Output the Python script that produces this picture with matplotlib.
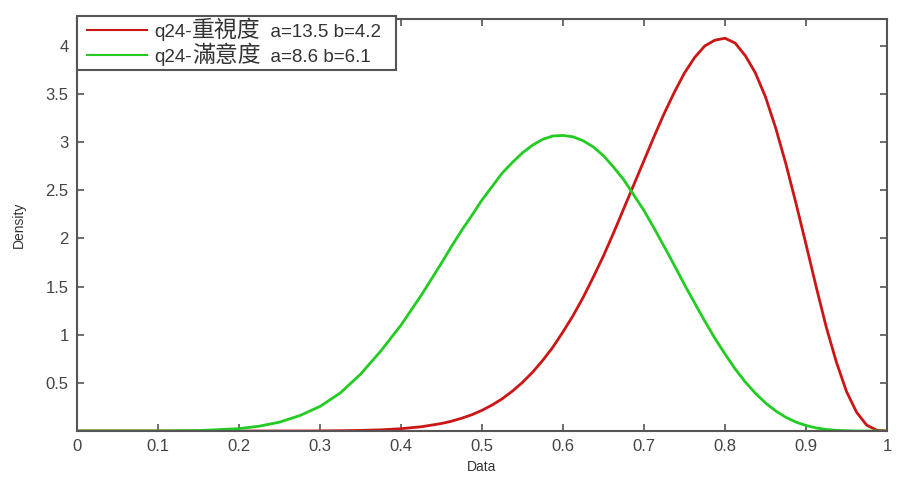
import matplotlib
matplotlib.use("Agg")
import matplotlib.pyplot as plt
from matplotlib.offsetbox import AnchoredOffsetbox, HPacker, VPacker, TextArea, DrawingArea
from matplotlib.lines import Line2D

plt.rcParams['font.family'] = ['Liberation Sans', 'Noto Sans CJK TC', 'DejaVu Sans']

# values
x_vals = [0.0, 0.1, 0.15, 0.2, 0.225, 0.25, 0.275, 0.3, 0.325, 0.35, 0.375, 0.4, 0.425,
          0.45, 0.4625, 0.475, 0.4875, 0.5, 0.5125, 0.525, 0.5375, 0.55, 0.5625, 0.575, 0.5875,
          0.6, 0.6125, 0.625, 0.6375, 0.65, 0.6625, 0.675, 0.6875, 0.7, 0.7125, 0.725, 0.7375,
          0.75, 0.7625, 0.775, 0.7875, 0.8, 0.8125, 0.825, 0.8375, 0.85, 0.8625, 0.875, 0.8875,
          0.9, 0.9125, 0.925, 0.9375, 0.95, 0.9625, 0.975, 0.9875, 1.0]
importance = [0.0, 0.0, 0.0, 0.0, 0.0, 0.0, 0.0, 0.001, 0.003, 0.006, 0.012, 0.024, 0.044,
              0.078, 0.102, 0.133, 0.169, 0.215, 0.270, 0.335, 0.414, 0.505, 0.611, 0.734, 0.871,
              1.03, 1.20, 1.39, 1.60, 1.82, 2.06, 2.31, 2.56, 2.81, 3.06, 3.30, 3.52,
              3.72, 3.88, 4.00, 4.06, 4.08, 4.03, 3.90, 3.72, 3.47, 3.15, 2.78, 2.37,
              1.94, 1.50, 1.08, 0.716, 0.41, 0.194, 0.06, 0.008, 0.0]
satisfaction = [0.0, 0.0, 0.004, 0.025, 0.050, 0.092, 0.160, 0.255, 0.395, 0.59, 0.83, 1.10, 1.41,
                1.745, 1.92, 2.085, 2.24, 2.40, 2.54, 2.68, 2.79, 2.89, 2.97, 3.03, 3.065,
                3.07, 3.056, 3.015, 2.95, 2.86, 2.74, 2.61, 2.45, 2.29, 2.106, 1.915, 1.72,
                1.52, 1.33, 1.142, 0.963, 0.80, 0.645, 0.51, 0.392, 0.292, 0.209, 0.143, 0.093,
                0.057, 0.032, 0.016, 0.007, 0.0025, 0.0, 0.0, 0.0, 0.0]
label_prefix = "q24-"
label_names = ["重視度", "滿意度"]
label_params = ["  a=13.5 b=4.2", "  a=8.6 b=6.1"]
x_ticks = [0, 0.1, 0.2, 0.3, 0.4, 0.5, 0.6, 0.7, 0.8, 0.9, 1]
x_ticklabels = ["0", "0.1", "0.2", "0.3", "0.4", "0.5", "0.6", "0.7", "0.8", "0.9", "1"]
y_ticks = [0.5, 1, 1.5, 2, 2.5, 3, 3.5, 4]
y_ticklabels = ["0.5", "1", "1.5", "2", "2.5", "3", "3.5", "4"]

W, H = 897, 484
fig = plt.figure(figsize=(W / 100, H / 100), dpi=100)
left, right, top, bottom = 77, 887, 19, 431
ax = fig.add_axes([left / W, 1 - bottom / H, (right - left) / W, (bottom - top) / H])

colors = ['#cc1616', '#22cc22']
ax.plot(x_vals, importance, color=colors[0], lw=2.0)
ax.plot(x_vals, satisfaction, color=colors[1], lw=2.0)

ax.set_xlim(0, 1)
ax.set_ylim(0, 4.28)
ax.set_xticks(x_ticks)
ax.set_xticklabels(x_ticklabels)
ax.set_yticks(y_ticks)
ax.set_yticklabels(y_ticklabels)

axc = '#555555'
for s in ax.spines.values():
    s.set_color(axc)
    s.set_linewidth(1.5)
ax.tick_params(direction='in', length=5, width=1.2, color=axc, labelcolor='#444444',
               labelsize=12, top=True, right=True, pad=6)

ax.set_xlabel("Data", fontsize=10, color='#333333', labelpad=4)
ax.set_ylabel("Density", fontsize=10, color='#333333', labelpad=14)

# legend built from offset boxes (CJK characters drawn larger than latin text)
txtc = '#333333'
rows = []
for c, name, par in zip(colors, label_names, label_params):
    da = DrawingArea(53, 10, 0, 0)
    da.add_artist(Line2D([5, 48], [5, 5], color=c, lw=1.5))
    t1 = TextArea(label_prefix, textprops=dict(fontsize=13.5, color=txtc, family='Liberation Sans'))
    t2 = TextArea(name, textprops=dict(fontsize=16.5, color=txtc, family='Noto Sans CJK TC'))
    t3 = TextArea(par, textprops=dict(fontsize=13.5, color=txtc, family='Liberation Sans'))
    sp = DrawingArea(8, 1, 0, 0)
    rows.append(HPacker(children=[da, t1, t2, t3, sp], align='baseline', pad=0, sep=0))
box = VPacker(children=rows, align='left', pad=0, sep=1)
anch = AnchoredOffsetbox(loc='upper left', child=box, pad=0.25, borderpad=0, frameon=True,
                         bbox_to_anchor=(0, 1.008), bbox_transform=ax.transAxes)
anch.patch.set_edgecolor(axc)
anch.patch.set_linewidth(1.5)
anch.patch.set_boxstyle('square', pad=0)
anch.set_zorder(5)
ax.add_artist(anch)

fig.savefig("out.png", dpi=100)
